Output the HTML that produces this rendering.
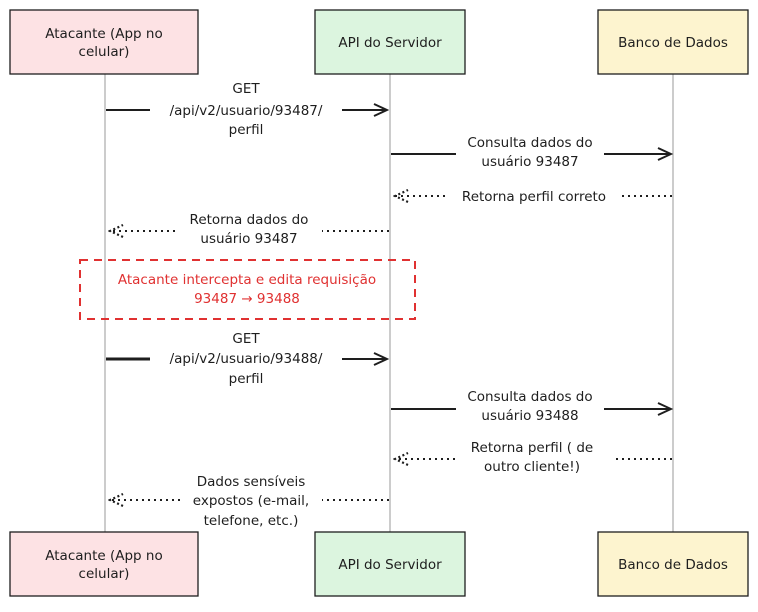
<!DOCTYPE html>
<html><head><meta charset="utf-8"><style>
html,body{margin:0;padding:0;background:#fff;}
svg text{font-family:"DejaVu Sans","Liberation Sans",sans-serif;font-size:13.5px;fill:#1e1e1e;text-anchor:middle;}
</style></head><body>
<svg width="758" height="607" viewBox="0 0 758 607" xmlns="http://www.w3.org/2000/svg">
<defs>
<marker id="a" markerWidth="16" markerHeight="14" refX="14" refY="7" orient="auto" markerUnits="userSpaceOnUse">
<path d="M1,1 L14,7 L1,13" fill="none" stroke="#1e1e1e" stroke-width="2"/></marker>
<marker id="d" markerWidth="16" markerHeight="14" refX="14" refY="7" orient="auto" markerUnits="userSpaceOnUse">
<path d="M1,1 L14,7 L1,13" fill="none" stroke="#1e1e1e" stroke-width="2.2" stroke-dasharray="2 2.5"/></marker>
</defs>
<g stroke="#999" stroke-width="1">
<line x1="105" y1="74" x2="105" y2="532"/>
<line x1="390" y1="74" x2="390" y2="532"/>
<line x1="673" y1="74" x2="673" y2="532"/>
</g>
<g stroke="#1e1e1e" stroke-width="1.3">
<rect x="10" y="10" width="188" height="64" fill="#fde2e4"/>
<rect x="315" y="10" width="150" height="64" fill="#dcf5df"/>
<rect x="598" y="10" width="150" height="64" fill="#fdf4cf"/>
<rect x="10" y="532" width="188" height="64" fill="#fde2e4"/>
<rect x="315" y="532" width="150" height="64" fill="#dcf5df"/>
<rect x="598" y="532" width="150" height="64" fill="#fdf4cf"/>
</g>
<text x="104" y="38">Atacante (App no</text><text x="104" y="56">celular)</text>
<text x="390" y="47">API do Servidor</text>
<text x="673" y="47">Banco de Dados</text>
<text x="104" y="560">Atacante (App no</text><text x="104" y="578">celular)</text>
<text x="390" y="569">API do Servidor</text>
<text x="673" y="569">Banco de Dados</text>
<g stroke="#1e1e1e" stroke-width="2" fill="none">
<line x1="106" y1="110" x2="150" y2="110"/><line x1="342" y1="110" x2="387" y2="110" marker-end="url(#a)"/>
<line x1="391" y1="154" x2="456" y2="154"/><line x1="604" y1="154" x2="671" y2="154" marker-end="url(#a)"/>
<line x1="672" y1="196" x2="622" y2="196" stroke-dasharray="2 4"/><line x1="445" y1="196" x2="395" y2="196" stroke-dasharray="2 4" marker-end="url(#d)"/>
<line x1="389" y1="231" x2="322" y2="231" stroke-dasharray="2 4"/><line x1="175" y1="231" x2="110" y2="231" stroke-dasharray="2 4" marker-end="url(#d)"/>
<line x1="106" y1="359" x2="150" y2="359" stroke-width="3"/><line x1="342" y1="359" x2="387" y2="359" marker-end="url(#a)"/>
<line x1="391" y1="409" x2="456" y2="409"/><line x1="604" y1="409" x2="671" y2="409" marker-end="url(#a)"/>
<line x1="672" y1="459" x2="612" y2="459" stroke-dasharray="2 4"/><line x1="455" y1="459" x2="395" y2="459" stroke-dasharray="2 4" marker-end="url(#d)"/>
<line x1="389" y1="500" x2="322" y2="500" stroke-dasharray="2 4"/><line x1="180" y1="500" x2="110" y2="500" stroke-dasharray="2 4" marker-end="url(#d)"/>
</g>
<text x="246" y="93">GET</text><text x="246" y="115">/api/v2/usuario/93487/</text><text x="246" y="134">perfil</text>
<text x="530" y="147">Consulta dados do</text><text x="530" y="166">usuário 93487</text>
<text x="534" y="201">Retorna perfil correto</text>
<text x="249" y="224">Retorna dados do</text><text x="249" y="243">usuário 93487</text>
<rect x="80" y="260" width="335" height="59" fill="none" stroke="#e03131" stroke-width="2" stroke-dasharray="8 6"/>
<text x="247" y="284" style="fill:#e03131">Atacante intercepta e edita requisição</text>
<text x="247" y="303" style="fill:#e03131">93487 → 93488</text>
<text x="246" y="343">GET</text><text x="246" y="363">/api/v2/usuario/93488/</text><text x="246" y="383">perfil</text>
<text x="530" y="401">Consulta dados do</text><text x="530" y="420">usuário 93488</text>
<text x="532" y="452">Retorna perfil ( de</text><text x="532" y="471">outro cliente!)</text>
<text x="251" y="486">Dados sensíveis</text><text x="251" y="505">expostos (e-mail,</text><text x="251" y="525">telefone, etc.)</text>
</svg>
</body></html>
